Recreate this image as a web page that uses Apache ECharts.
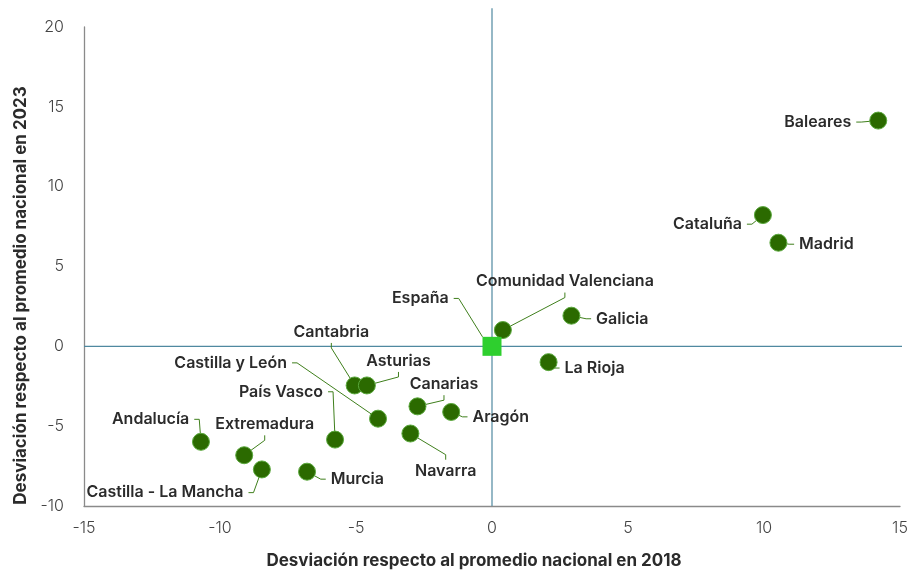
<!DOCTYPE html>
<html>
<head>
<meta charset="utf-8">
<script src="https://cdn.jsdelivr.net/npm/echarts@6/dist/echarts.min.js"></script>
<style>
html,body{margin:0;padding:0;background:#fff;}
#chart{width:913px;height:574px;}
</style>
</head>
<body>
<div id="chart"></div>
<script>
// ---- data ----
const regions = ['Baleares','Cataluña','Madrid','Comunidad Valenciana','Galicia','España','La Rioja','Cantabria','Asturias','Castilla y León','Canarias','Aragón','Navarra','País Vasco','Murcia','Andalucía','Extremadura','Castilla - La Mancha'];
const dev2018 = [14.2, 9.96, 10.53, 0.4, 2.92, 0, 2.08, -5.05, -4.6, -4.19, -2.74, -1.5, -3.0, -5.77, -6.8, -10.7, -9.11, -8.46];
const dev2023 = [14.14, 8.22, 6.49, 1.02, 1.92, 0, -0.99, -2.45, -2.45, -4.53, -3.76, -4.11, -5.46, -5.84, -7.85, -5.98, -6.82, -7.71];
const nationalName = 'España';
const crossVertical = [[0, -10], [0, 21.17]];
const crossHorizontal = [[-15, 0], [15.34, 0]];
const xTitle = 'Desviación respecto al promedio nacional en 2018';
const yTitle = 'Desviación respecto al promedio nacional en 2023';

// ---- label placement (pixel offsets from point centre) ----
const labelDx    = [-22, -16, 15.7, 62, 19.7, -38.3, 11, -23.3, 31.6, -86, 26.5, 16.3, 35.3, -7, 18.7, -6.7, 20.5, -13.4];
const labelDy    = [0, 7.6, 0, -50, 1.6, -49.4, 4.4, -55, -26, -57.3, -23.7, 3.4, 35.7, -49.3, 6, -24, -32.4, 21.7];
const labelAlign = ['right','right','left','center','left','right','left','center','center','right','center','left','center','right','left','right','center','right'];
const labelPadH  = [5, 5, 5, 40, 5, 5, 5, 5, 20, 5, 12, 5, 30, 5, 5, 5, 5, 5];
const labelBaselineShift = 1.5;

const FONT = 'Inter, "Noto Sans", sans-serif';
const TXT = '#2b2b2b';

const points = regions.map((r, i) => {
  const item = {
    name: r,
    value: [dev2018[i], dev2023[i]],
    label: { padding: [3, labelPadH[i], 3, labelPadH[i]] }
  };
  if (r === nationalName) {
    item.symbol = 'rect';
    item.symbolSize = 19;
    item.itemStyle = { color: '#2ecf2e', borderWidth: 0 };
  }
  return item;
});

const chart = echarts.init(document.getElementById('chart'), null, { renderer: 'canvas' });
chart.setOption({
  animation: false,
  backgroundColor: '#ffffff',
  grid: { left: 84, right: 13, top: 27, bottom: 66 },
  xAxis: {
    type: 'value', min: -15, max: 15, interval: 5,
    axisLine: { show: true, onZero: false, lineStyle: { color: '#8a8a8a', width: 1.3 } },
    axisTick: { show: false },
    splitLine: { show: false },
    axisLabel: { margin: 14, fontSize: 16, color: '#444', fontFamily: FONT, fontWeight: 300 },
    name: xTitle, nameLocation: 'middle', nameGap: 46,
    nameTextStyle: { fontSize: 17, fontWeight: 700, color: TXT, fontFamily: FONT, padding: [0, 36, 0, 0] }
  },
  yAxis: {
    type: 'value', min: -10, max: 20, interval: 5,
    axisLine: { show: true, onZero: false, lineStyle: { color: '#8a8a8a', width: 1.3 } },
    axisTick: { show: false },
    splitLine: { show: false },
    axisLabel: { margin: 20, fontSize: 16, color: '#444', fontFamily: FONT, fontWeight: 300 },
    name: yTitle, nameLocation: 'middle', nameGap: 54,
    nameTextStyle: { fontSize: 17, fontWeight: 700, color: TXT, fontFamily: FONT, padding: [0, 58, 0, 0] }
  },
  series: [
    {
      type: 'line', data: crossVertical, symbol: 'none', silent: true, clip: false, z: 1,
      lineStyle: { color: '#4f89a0', width: 1.2 }
    },
    {
      type: 'line', data: crossHorizontal, symbol: 'none', silent: true, clip: false, z: 1,
      lineStyle: { color: '#4f89a0', width: 1.2 }
    },
    {
      type: 'scatter', z: 3,
      data: points,
      symbol: 'circle', symbolSize: 17,
      itemStyle: { color: '#2b6a00', borderColor: '#5aa83c', borderWidth: 1, opacity: 1 },
      label: {
        show: true, formatter: '{b}', position: 'right',
        color: TXT, fontSize: 16, fontWeight: 600, fontFamily: FONT,
        backgroundColor: 'rgba(255,255,255,0)'
      },
      labelLine: { show: true, length2: 5, lineStyle: { color: '#3f7f1c', width: 1 } },
      labelLayout: function (p) {
        const i = p.dataIndex;
        const cx = p.rect.x + p.rect.width / 2;
        const cy = p.rect.y + p.rect.height / 2;
        return { x: cx + labelDx[i], y: cy + labelDy[i] + labelBaselineShift, align: labelAlign[i], verticalAlign: 'middle' };
      }
    }
  ]
});
</script>
</body>
</html>
